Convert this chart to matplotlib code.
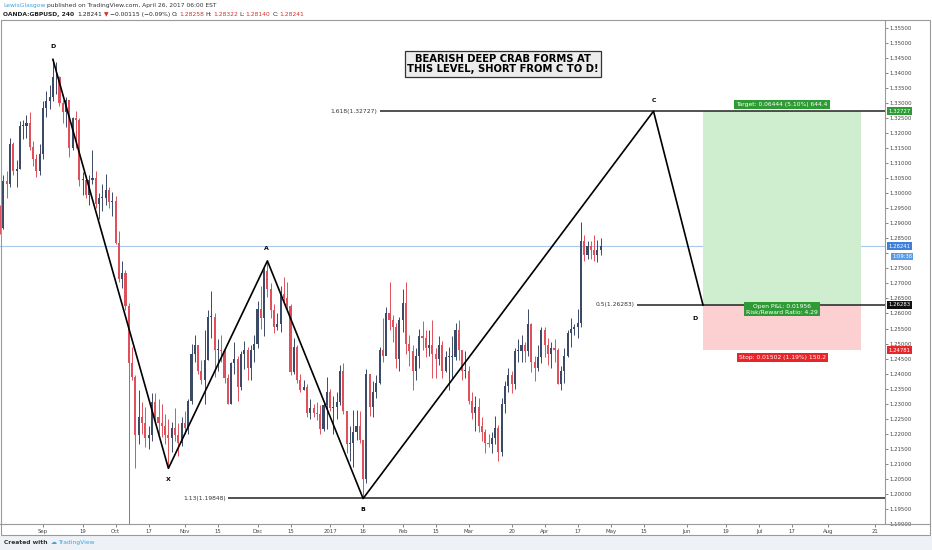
import numpy as np
import pandas as pd
import matplotlib
matplotlib.use("Agg")
import matplotlib.pyplot as plt
import matplotlib.transforms as mtransforms
from matplotlib.patches import Rectangle

# ---- data (GBPUSD, daily resolution) ----
BASE = '2016-09-01'
dates = pd.bdate_range('2016-08-15', '2017-04-26')
first_open = 1.2935

close = [
    # Aug
    1.2885, 1.3040, 1.3030, 1.3165, 1.3075, 1.3080, 1.3225, 1.3225, 1.3235, 1.3155, 1.3115, 1.3075, 1.3130,
    # Sep
    1.3285, 1.3305, 1.3320, 1.3385, 1.3385, 1.3300, 1.3270, 1.3310, 1.3150, 1.3250, 1.3245, 1.3045, 1.3045,
    1.2995, 1.3045, 1.3050, 1.2965, 1.2985, 1.2985, 1.3010, 1.2970, 1.2975,
    # Oct
    1.2835, 1.2715, 1.2735, 1.2625, 1.2435, 1.2390, 1.2195, 1.2255, 1.2235, 1.2185, 1.2195, 1.2305, 1.2255,
    1.2235, 1.2225, 1.2195, 1.2185, 1.2220, 1.2195, 1.2170, 1.2235,
    # Nov
    1.2220, 1.2310, 1.2465, 1.2495, 1.2410, 1.2380, 1.2445, 1.2590, 1.2590, 1.2480, 1.2480, 1.2475, 1.2385,
    1.2300, 1.2435, 1.2450, 1.2355, 1.2465, 1.2480, 1.2420, 1.2480, 1.2500,
    # Dec
    1.2615, 1.2585, 1.2740, 1.2680, 1.2610, 1.2555, 1.2565, 1.2665, 1.2650, 1.2625, 1.2405, 1.2490, 1.2380,
    1.2345, 1.2355, 1.2270, 1.2285, 1.2270, 1.2265, 1.2215, 1.2295, 1.2340,
    # Jan
    1.2285, 1.2290, 1.2305, 1.2410, 1.2275, 1.2165, 1.2170, 1.2205, 1.2225, 1.2180, 1.2050, 1.2400, 1.2290,
    1.2340, 1.2370, 1.2480, 1.2460, 1.2600, 1.2580, 1.2555, 1.2450, 1.2580,
    # Feb
    1.2635, 1.2500, 1.2475, 1.2410, 1.2460, 1.2525, 1.2520, 1.2485, 1.2495, 1.2465, 1.2450, 1.2495, 1.2410,
    1.2455, 1.2455, 1.2455, 1.2545, 1.2480, 1.2410, 1.2410,
    # Mar
    1.2310, 1.2270, 1.2290, 1.2225, 1.2205, 1.2170, 1.2165, 1.2185, 1.2220, 1.2140, 1.2300, 1.2360, 1.2395,
    1.2365, 1.2475, 1.2475, 1.2495, 1.2475, 1.2565, 1.2440, 1.2420, 1.2455, 1.2545,
    # Apr
    1.2495, 1.2465, 1.2485, 1.2480, 1.2365, 1.2410, 1.2460, 1.2535, 1.2550, 1.2555, 1.2570, 1.2840, 1.2795,
    1.2825, 1.2810, 1.2795, 1.2810, 1.2824,
]
high = [
    1.2960, 1.3060, 1.3075, 1.3185, 1.3170, 1.3110, 1.3240, 1.3245, 1.3260, 1.3270, 1.3175, 1.3130, 1.3165,
    1.3305, 1.3340, 1.3360, 1.3445, 1.3435, 1.3390, 1.3310, 1.3320, 1.3310, 1.3255, 1.3275, 1.3250, 1.3070,
    1.3060, 1.3060, 1.3145, 1.3075, 1.3000, 1.3030, 1.3065, 1.3020, 1.3005,
    1.2990, 1.2875, 1.2775, 1.2745, 1.2635, 1.2490, 1.2395, 1.2345, 1.2305, 1.2290, 1.2225, 1.2335, 1.2335,
    1.2315, 1.2300, 1.2265, 1.2250, 1.2240, 1.2285, 1.2235, 1.2255,
    1.2275, 1.2315, 1.2500, 1.2530, 1.2495, 1.2445, 1.2545, 1.2610, 1.2675, 1.2600, 1.2515, 1.2530, 1.2485,
    1.2400, 1.2440, 1.2505, 1.2460, 1.2475, 1.2510, 1.2490, 1.2495, 1.2530,
    1.2640, 1.2690, 1.2750, 1.2775, 1.2700, 1.2630, 1.2600, 1.2690, 1.2720, 1.2705, 1.2630, 1.2520, 1.2495,
    1.2400, 1.2380, 1.2365, 1.2315, 1.2300, 1.2305, 1.2295, 1.2305, 1.2390,
    1.2350, 1.2325, 1.2340, 1.2430, 1.2435, 1.2270, 1.2225, 1.2280, 1.2280, 1.2275, 1.2090, 1.2415, 1.2395,
    1.2375, 1.2395, 1.2490, 1.2585, 1.2620, 1.2705, 1.2595, 1.2570, 1.2590,
    1.2680, 1.2705, 1.2530, 1.2495, 1.2485, 1.2550, 1.2575, 1.2545, 1.2545, 1.2580, 1.2485, 1.2525, 1.2510,
    1.2475, 1.2490, 1.2525, 1.2570, 1.2580, 1.2480, 1.2475,
    1.2425, 1.2340, 1.2325, 1.2320, 1.2255, 1.2215, 1.2200, 1.2205, 1.2260, 1.2230, 1.2320, 1.2375, 1.2420,
    1.2410, 1.2485, 1.2515, 1.2530, 1.2505, 1.2615, 1.2570, 1.2460, 1.2495, 1.2555,
    1.2555, 1.2520, 1.2505, 1.2515, 1.2485, 1.2425, 1.2485, 1.2545, 1.2585, 1.2565, 1.2615, 1.2905, 1.2860,
    1.2840, 1.2840, 1.2860, 1.2845, 1.2850,
]
low = [
    1.2865, 1.2880, 1.2985, 1.3020, 1.3060, 1.3020, 1.3080, 1.3180, 1.3185, 1.3145, 1.3090, 1.3055, 1.3060,
    1.3115, 1.3255, 1.3280, 1.3305, 1.3330, 1.3290, 1.3235, 1.3220, 1.3120, 1.3145, 1.3150, 1.3025, 1.2995,
    1.2985, 1.2960, 1.3030, 1.2950, 1.2915, 1.2940, 1.2960, 1.2950, 1.2925,
    1.2830, 1.2705, 1.2685, 1.2610, 1.1841, 1.2380, 1.2085, 1.2165, 1.2200, 1.2155, 1.2150, 1.2175, 1.2240,
    1.2200, 1.2190, 1.2165, 1.2085, 1.2140, 1.2175, 1.2125, 1.2160,
    1.2200, 1.2200, 1.2300, 1.2440, 1.2400, 1.2365, 1.2300, 1.2445, 1.2520, 1.2390, 1.2410, 1.2440, 1.2370,
    1.2300, 1.2300, 1.2400, 1.2310, 1.2345, 1.2415, 1.2380, 1.2380, 1.2440,
    1.2485, 1.2550, 1.2525, 1.2655, 1.2585, 1.2535, 1.2545, 1.2540, 1.2640, 1.2610, 1.2395, 1.2400, 1.2370,
    1.2340, 1.2345, 1.2255, 1.2250, 1.2255, 1.2245, 1.2200, 1.2210, 1.2215,
    1.2275, 1.2200, 1.2250, 1.2295, 1.2265, 1.2135, 1.2110, 1.2090, 1.2180, 1.2170, 1.1986, 1.2035, 1.2260,
    1.2255, 1.2320, 1.2365, 1.2440, 1.2465, 1.2545, 1.2505, 1.2420, 1.2410,
    1.2540, 1.2465, 1.2425, 1.2345, 1.2380, 1.2420, 1.2480, 1.2455, 1.2460, 1.2385, 1.2385, 1.2430, 1.2385,
    1.2405, 1.2345, 1.2385, 1.2445, 1.2445, 1.2380, 1.2385,
    1.2300, 1.2250, 1.2210, 1.2205, 1.2175, 1.2135, 1.2155, 1.2135, 1.2165, 1.2110, 1.2125, 1.2270, 1.2340,
    1.2335, 1.2350, 1.2440, 1.2440, 1.2440, 1.2460, 1.2405, 1.2375, 1.2410, 1.2435,
    1.2455, 1.2430, 1.2420, 1.2440, 1.2365, 1.2345, 1.2370, 1.2455, 1.2490, 1.2530, 1.2520, 1.2555, 1.2775,
    1.2780, 1.2780, 1.2775, 1.2770, 1.2795,
]

pattern_labels = ['D', 'X', 'A', 'B', 'C', 'D']
pattern_dates = ['2016-09-06', '2016-10-25', '2016-12-06', '2017-01-16', '2017-05-18', '2017-06-08']
pattern_prices = [1.3445, 1.2085, 1.2775, 1.19848, 1.32727, 1.26283]
label_offsets = [(0, 9), (0, -8), (-1, 9), (0, -8), (0, 8), (-6, -10)]

fib_labels = ['1.618(1.32727)', '0.5(1.26283)', '1.13(1.19848)']
fib_prices = [1.32727, 1.26283, 1.19848]
fib_start = ['2017-01-23', '2017-05-11', '2016-11-18']

entry, target, stop = 1.26283, 1.32727, 1.24781
pos_start, pos_end = '2017-06-08', '2017-08-15'
last_price = 1.28241

xtick_dates = ['2016-09-01', '2016-09-19', '2016-10-03', '2016-10-17', '2016-11-01', '2016-11-15',
               '2016-12-01', '2016-12-15', '2017-01-02', '2017-01-16', '2017-02-01', '2017-02-15',
               '2017-03-01', '2017-03-20', '2017-04-03', '2017-04-17', '2017-05-01', '2017-05-15',
               '2017-06-01', '2017-06-19', '2017-07-03', '2017-07-17', '2017-08-01', '2017-08-21']
xtick_labels = ['Sep', '19', 'Oct', '17', 'Nov', '15', 'Dec', '15', '2017', '16', 'Feb', '15',
                'Mar', '20', 'Apr', '17', 'May', '15', 'Jun', '19', 'Jul', '17', 'Aug', '21']


def day(d):
    # trading-day index (weekends skipped, like the TradingView time scale)
    return float(np.busday_count(BASE, np.datetime64(pd.Timestamp(d).date())))


W, H = 932, 550
fig = plt.figure(figsize=(W / 100, H / 100), dpi=100)
fig.patch.set_facecolor('white')


def fx(px):
    return px / W


def fy(py):
    return 1 - py / H


# footer strip
fig.patches.append(Rectangle((0, 0), 1, fy(536), transform=fig.transFigure,
                             facecolor='#eef1f5', edgecolor='none', zorder=0))

ax = fig.add_axes([0.0, fy(524), fx(885), fy(20) - fy(524)])
ax.set_xlim(-13.03, 255.15)
ax.set_ylim(1.19350, 1.35760)

# candles
x = np.array([day(d) for d in dates])
c = np.array(close)
o = np.concatenate([[first_open], c[:-1]])
hi = np.array(high)
lo = np.array(low)
up = c >= o
cols = np.where(up, '#3b4a66', '#e0505a')
ax.vlines(x, lo, hi, colors=cols, lw=0.7, zorder=2)
ax.bar(x, np.maximum(np.abs(c - o), 0.0003), bottom=np.minimum(o, c), width=0.65,
       color=cols, linewidth=0, zorder=3)

# last price line
ax.axhline(last_price, color='#a9c8ec', lw=0.8, zorder=1)

# position tool
xs, xe = day(pos_start), day(pos_end)
ax.add_patch(Rectangle((xs, entry), xe - xs, target - entry, facecolor='#cfedcf',
                       edgecolor='none', zorder=1))
ax.add_patch(Rectangle((xs, stop), xe - xs, entry - stop, facecolor='#fcd0d0',
                       edgecolor='none', zorder=1))
xm = (xs + xe) / 2
ax.annotate('Target: 0.06444 (5.10%) 644.4', (xm, target), xytext=(0, 3.2),
            textcoords='offset points', ha='center', va='bottom', fontsize=4.3, color='white',
            bbox=dict(boxstyle='square,pad=0.35', fc='#2e9b35', ec='none'), zorder=6)
ax.annotate('Open P&L: 0.01956\nRisk/Reward Ratio: 4.29', (xm, entry), xytext=(0, -3),
            textcoords='offset points', ha='center', va='center', fontsize=4.3, color='white',
            linespacing=1.0,
            bbox=dict(boxstyle='square,pad=0.35', fc='#2e9b35', ec='none'), zorder=6)
ax.annotate('Stop: 0.01502 (1.19%) 150.2', (xm, stop), xytext=(0, -3.5),
            textcoords='offset points', ha='center', va='top', fontsize=4.3, color='white',
            bbox=dict(boxstyle='square,pad=0.35', fc='#e8262a', ec='none'), zorder=6)

# fib levels
for lab, p, s in zip(fib_labels, fib_prices, fib_start):
    ax.hlines(p, day(s), ax.get_xlim()[1], color='#222222', lw=1.1, zorder=4)
    ax.annotate(lab, (day(s), p), xytext=(-1.5, 0), textcoords='offset points',
                ha='right', va='center', fontsize=4.3, color='#333333')

# pattern legs
px = [day(d) for d in pattern_dates]
ax.plot(px, pattern_prices, color='black', lw=1.2, zorder=5)
for lab, xx, yy, off in zip(pattern_labels, px, pattern_prices, label_offsets):
    ax.annotate(lab, (xx, yy), xytext=off, textcoords='offset points', ha='center',
                va='center', fontsize=4.5, fontweight='bold', color='black')

# comment box
ax.text(fx(503) / fx(885), (fy(64) - fy(524)) / (fy(20) - fy(524)),
        'BEARISH DEEP CRAB FORMS AT\nTHIS LEVEL, SHORT FROM C TO D!', transform=ax.transAxes,
        ha='center', va='center', fontsize=7.2, fontweight='bold', color='black',
        linespacing=1.05,
        bbox=dict(boxstyle='square,pad=0.25', fc='#ececec', ec='#333333', lw=0.9), zorder=7)

# axes styling
ax.set_facecolor('white')
for side in ['top', 'left']:
    ax.spines[side].set_visible(False)
ax.spines['right'].set_color('#9a9a9a')
ax.spines['bottom'].set_color('#9a9a9a')
ax.spines['right'].set_linewidth(0.8)
ax.spines['bottom'].set_linewidth(0.8)

ax.yaxis.tick_right()
yt = np.arange(1.190, 1.3551, 0.005)
ax.set_yticks(yt)
# the 1.28000 label sits under the last-price / countdown tags
ax.set_yticklabels(['' if abs(v - 1.28) < 1e-6 else f'{v:.5f}' for v in yt])
ax.tick_params(axis='y', labelsize=3.9, colors='#555555', length=2, width=0.5, pad=1.5)
ax.set_xticks([day(d) for d in xtick_dates])
ax.set_xticklabels(xtick_labels)
ax.tick_params(axis='x', labelsize=3.9, colors='#555555', length=2, width=0.5, pad=1.5)
for t in ax.get_yticklabels() + ax.get_xticklabels():
    t.set_color('#444444')

# price scale tags
blend = mtransforms.blended_transform_factory(ax.transAxes, ax.transData)
tags = [(target, f'{target:.5f}', '#2e9b35'), (last_price, f'{last_price:.5f}', '#3d7fd9'),
        (entry, f'{entry:.5f}', '#111111'), (stop, f'{stop:.5f}', '#e8262a')]
for p, s, colr in tags:
    ax.text(1.004, p, s, transform=blend, ha='left', va='center', fontsize=3.9, color='white',
            bbox=dict(boxstyle='square,pad=0.3', fc=colr, ec='none'), clip_on=False, zorder=8)
ax.annotate('1:09:38', (1.004, last_price), xycoords=blend, xytext=(2.5, -7.6),
            textcoords='offset points', ha='left', va='center', fontsize=3.7, color='white',
            bbox=dict(boxstyle='square,pad=0.25', fc='#5b9ae6', ec='none'), annotation_clip=False)

# outer frame
fig.add_artist(Rectangle((fx(0.5), fy(535)), fx(929), fy(20) - fy(535), transform=fig.transFigure,
                         facecolor='none', edgecolor='#9a9a9a', lw=0.8))
fig.add_artist(plt.Line2D([fx(885), fx(929.5)], [fy(524), fy(524)], transform=fig.transFigure,
                          color='#9a9a9a', lw=0.8))

# header / footer text
renderer = fig.canvas.get_renderer()


def chain(x0, y0, parts, size):
    xcur = x0
    for s, colr, wt, gap in parts:
        t = fig.text(fx(xcur), fy(y0), s, color=colr, fontsize=size, fontweight=wt,
                     ha='left', va='center')
        bb = t.get_window_extent(renderer)
        xcur = bb.x1 + gap


chain(3, 5.5, [('LewisGlasgow', '#3fa3e0', 'normal', 1.5),
               ('published on TradingView.com, April 26, 2017 06:00 EST', '#333333', 'normal', 0)], 4.3)
red = '#d0312d'
chain(3, 14.5, [('OANDA:GBPUSD, 240', '#222222', 'bold', 3),
                ('1.28241', '#222222', 'normal', 1.5), ('\u25bc', red, 'normal', 1.5),
                ('\u22120.00115 (\u22120.09%)', '#222222', 'normal', 2),
                ('O:', '#222222', 'normal', 0.5), ('1.28258', red, 'normal', 2),
                ('H:', '#222222', 'normal', 0.5), ('1.28322', red, 'normal', 2),
                ('L:', '#222222', 'normal', 0.5), ('1.28140', red, 'normal', 2),
                ('C:', '#222222', 'normal', 0.5), ('1.28241', red, 'normal', 0)], 4.3)
chain(4, 542.5, [('Created with', '#333333', 'bold', 3),
                 ('\u2601', '#3fa3e0', 'normal', 1.5),
                 ('TradingView', '#3fa3e0', 'normal', 0)], 4.3)

fig.savefig('out.png', dpi=100)
